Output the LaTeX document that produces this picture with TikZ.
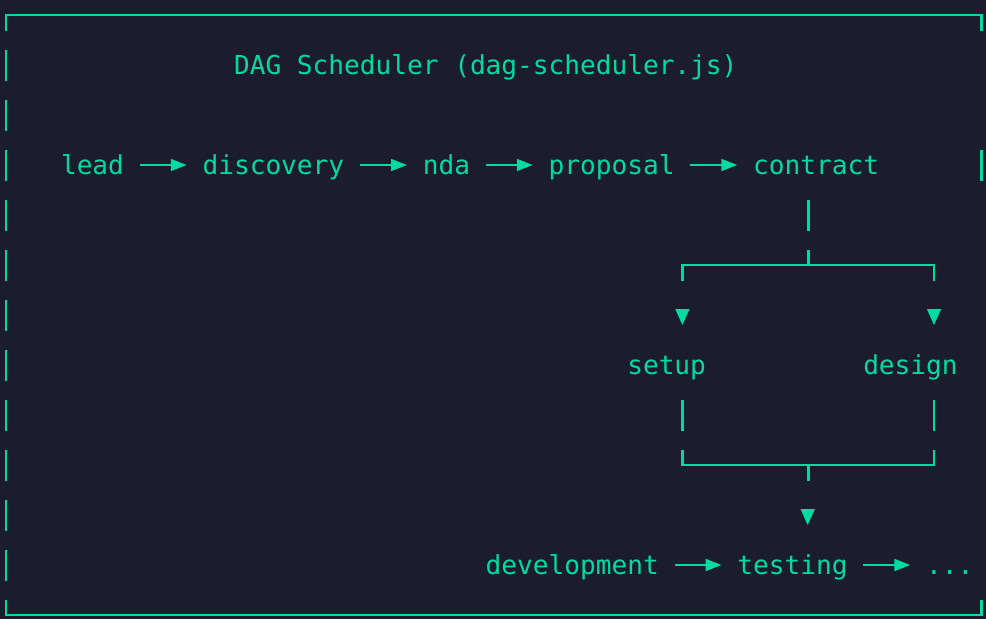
\documentclass[tikz,border=0pt]{standalone}
\usepackage{fontspec}
\setmonofont{DejaVu Sans Mono}
\usetikzlibrary{arrows.meta}
\definecolor{bgc}{RGB}{27,28,46}
\definecolor{fgc}{RGB}{0,220,160}
\begin{document}
\begin{tikzpicture}[x=1pt,y=-1pt,
  lbl/.style={anchor=west,inner sep=0pt,outer sep=0pt,text height=19pt,text depth=1pt,
    font=\ttfamily\fontsize{26.13pt}{50pt}\selectfont,text=fgc},
  frame/.style={draw=fgc,line width=2.9pt,line cap=butt},
  wire/.style={draw=fgc,line width=2.6pt,line cap=butt},
  arr/.style={draw=fgc,line width=2.8pt,-{Triangle[length=16pt,width=11.5pt]}},
  tri/.style={fill=fgc,draw=none}]
\fill[bgc] (0,0) rectangle (986,619);
\useasboundingbox (0,0) rectangle (986,619);
% frame
\draw[frame] (6,30.5) -- (6,15) -- (981.2,15) -- (981.2,30.5);
\foreach \r in {65,115,...,565} {\draw[frame] (6,\r-15.5) -- (6,\r+15.5);}
\draw[frame] (981.2,149.5) -- (981.2,180.5);
\draw[frame] (6,599.5) -- (6,615) -- (981.2,615) -- (981.2,599.5);
% title
\node[lbl] (title) at (234.05,65) {DAG Scheduler (dag-scheduler.js)};
% main row
\node[lbl] (lead) at (61.02,165) {lead};
\node[lbl] (discovery) at (202.59,165) {discovery};
\node[lbl] (nda) at (422.81,165) {nda};
\node[lbl] (proposal) at (548.65,165) {proposal};
\node[lbl] (contract) at (753.14,165) {contract};
\draw[arr] ([xshift=15.73pt]lead.east) -- ([xshift=-15.73pt]discovery.west);
\draw[arr] ([xshift=15.73pt]discovery.east) -- ([xshift=-15.73pt]nda.west);
\draw[arr] ([xshift=15.73pt]nda.east) -- ([xshift=-15.73pt]proposal.west);
\draw[arr] ([xshift=15.73pt]proposal.east) -- ([xshift=-15.73pt]contract.west);
% branch
\node[lbl] (setup) at (627.30,365) {setup};
\node[lbl] (design) at (863.25,365) {design};
\coordinate (cA) at (808.2,199.5);
\coordinate (cB) at (808.2,230.5);
\coordinate (cC) at (808.2,249.5);
\coordinate (jTop) at (808.2,265);
\coordinate (lTop) at (682.4,265);
\coordinate (rTop) at (934,265);
\draw[wire] (cA) -- (cB);
\draw[wire] (cC) -- (jTop);
\draw[wire] (682.4,280.5) -- (lTop) -- (rTop) -- (934,280.5);
\fill[tri] (675.2,309) -- (689.6,309) -- (682.4,325) -- cycle;
\fill[tri] (926.8,309) -- (941.2,309) -- (934,325) -- cycle;
% merge
\draw[wire] (682.4,399.5) -- (682.4,430.5);
\draw[wire] (934,399.5) -- (934,430.5);
\coordinate (jBot) at (808.2,465);
\draw[wire] (682.4,449.5) -- (682.4,465) -- (934,465) -- (934,449.5);
\draw[wire] (jBot) -- (808.2,480.5);
\fill[tri] (800.5,509) -- (814.9,509) -- (807.7,525) -- cycle;
% bottom row
\node[lbl] (development) at (485.73,565) {development};
\node[lbl] (testing) at (737.41,565) {testing};
\node[lbl] (more) at (926.17,565) {...};
\draw[arr] ([xshift=15.73pt]development.east) -- ([xshift=-15.73pt]testing.west);
\draw[arr] ([xshift=15.73pt]testing.east) -- ([xshift=-15.73pt]more.west);
\end{tikzpicture}
\end{document}
